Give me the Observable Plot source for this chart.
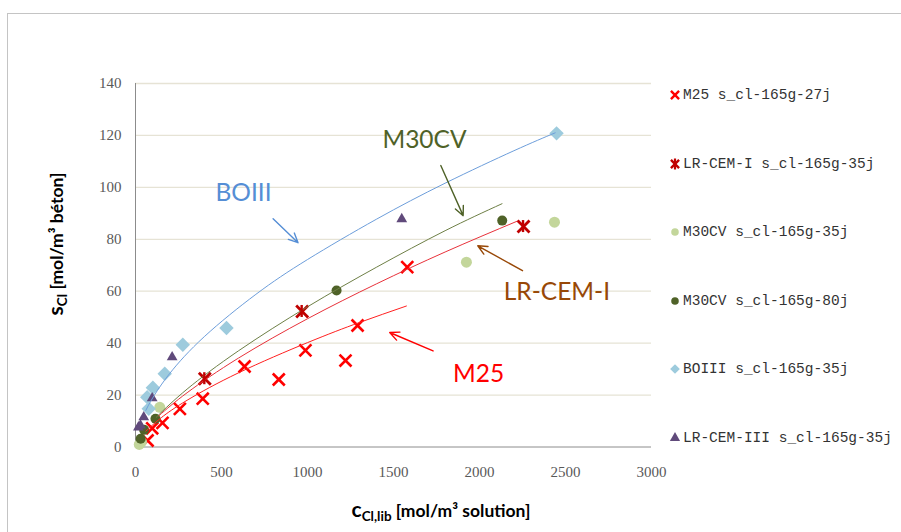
<!DOCTYPE html>
<html>
<head>
<meta charset="utf-8">
<script src="https://cdn.jsdelivr.net/npm/d3@7"></script>
<script src="https://cdn.jsdelivr.net/npm/@observablehq/plot@0.6"></script>
<style>
  html, body { margin: 0; padding: 0; background: #fff; }
  #wrap { position: relative; width: 901px; height: 532px; overflow: hidden; }
  #frame { position: absolute; left: 7px; top: 13px; width: 1000px; height: 600px; border: 1px solid #c4c4c4; box-sizing: border-box; }
  #chart { position: absolute; left: 0; top: 0; }
  #legend { position: absolute; left: 668px; top: 84px; font-family: "Liberation Mono", monospace; font-size: 14.5px; color: #333; }
  .item { position: absolute; left: 0; white-space: nowrap; display: flex; align-items: center; height: 22px; }
  .item svg { margin-right: 1px; }
</style>
</head>
<body>
<div id="wrap">
  <div id="frame"></div>
  <div id="chart"></div>
  <div id="legend"></div>
</div>
<script>
// ---- tick labels ----
const xTicks = [0, 500, 1000, 1500, 2000, 2500, 3000];
const yTicks = [0, 20, 40, 60, 80, 100, 120, 140];

// ---- series names ----
const seriesNames = [
  "M25 s_cl-165g-27j",
  "LR-CEM-I s_cl-165g-35j",
  "M30CV s_cl-165g-35j",
  "M30CV s_cl-165g-80j",
  "BOIII s_cl-165g-35j",
  "LR-CEM-III s_cl-165g-35j"
];

// ---- measured points (x = c_Cl,lib, y = S_Cl) ----
const m25X = [70, 97, 157, 258, 391, 634, 833, 988, 1221, 1291, 1580];
const m25Y = [2.5, 7.2, 9.3, 14.7, 18.6, 31, 26, 37.2, 33.3, 46.8, 69.3];

const lrcem1X = [403, 969, 2256];
const lrcem1Y = [26.3, 52.2, 84.9];

const m30cv35X = [22, 35, 141, 1924, 2436];
const m30cv35Y = [1.0, 2.0, 15.3, 71.2, 86.6];

const m30cv80X = [30, 50, 116, 1169, 2132];
const m30cv80Y = [3.2, 6.6, 10.9, 60.3, 87.2];

const boiiiX = [68, 77, 101, 170, 275, 529, 2448];
const boiiiY = [19.2, 14.7, 22.8, 28.2, 39.4, 45.8, 120.8];

const lrcem3X = [17, 29, 48, 97, 213, 1548];
const lrcem3Y = [7.6, 8.3, 11.5, 18.8, 34.6, 87.8];

// ---- trend curves ----
const trendBOIIIX = [60, 100, 200, 400, 700, 1000, 1400, 1800, 2200, 2440];
const trendBOIIIY = [14.1, 18.9, 28.4, 42.5, 58.8, 72.2, 87.7, 101.6, 114.1, 121.0];

const trendM30CVX = [120, 300, 600, 1000, 1400, 1800, 2131];
const trendM30CVY = [11.4, 22.3, 37.1, 54.0, 69.2, 83.3, 93.7];

const trendLRCEM1X = [135, 300, 600, 1000, 1400, 1800, 2220];
const trendLRCEM1Y = [12.0, 20.9, 34.3, 49.4, 62.8, 75.1, 87.0];

const trendM25X = [60, 150, 300, 600, 1000, 1300, 1575];
const trendM25Y = [6.1, 11.3, 18.0, 28.6, 40.2, 47.9, 54.3];

// ---- annotations ----
const annLabels = ["BOIII", "M30CV", "LR-CEM-I", "M25"];
const annTextX = [628, 1680, 2450, 1995];
const annTextY = [97.6, 118, 59.5, 28];
const annFromX = [800, 1775, 2250, 1730];
const annFromY = [87.9, 108.4, 67.9, 37];
const annToX = [945, 1905, 1990, 1478];
const annToY = [78.7, 89.1, 77.5, 44.1];
const annColors = ["#558ED5", "#4F6228", "#984807", "#FF0000"];

// ---- helpers ----
const zip = (xs, ys) => xs.map((x, i) => ({x, y: ys[i]}));
const anns = annLabels.map((label, i) => ({
  label, tx: annTextX[i], ty: annTextY[i],
  x1: annFromX[i], y1: annFromY[i], x2: annToX[i], y2: annToY[i], color: annColors[i]
}));

const colors = {
  m25: "#FF0000", lrcem1: "#C00000", m30cv35: "#C3D69B", m30cv80: "#4F6228",
  boiii: "#9DCBDD", lrcem3: "#604A7B"
};

const chart = Plot.plot({
  width: 901,
  height: 532,
  marginLeft: 135,
  marginRight: 250,
  marginTop: 83,
  marginBottom: 85.5,
  style: { fontFamily: "Liberation Serif, serif", fontSize: "15px", color: "#595959", background: "transparent" },
  x: { domain: [0, 3000] },
  y: { domain: [0, 140] },
  marks: [
    Plot.gridY(yTicks.filter(d => d > 0), { stroke: "#E6E3D5", strokeOpacity: 1, strokeWidth: 1.3 }),
    Plot.axisX(xTicks, { tickSize: 0, tickPadding: 19, label: null, fontSize: 15, tickFormat: d => String(d) }),
    Plot.axisY(yTicks, { tickSize: 0, tickPadding: 14, label: null, fontSize: 15, tickFormat: d => String(d) }),
    Plot.ruleX([0], { stroke: "#8C8C8C", strokeWidth: 1 }),
    Plot.ruleY([0], { stroke: "#8C8C8C", strokeWidth: 1 }),

    // markers
    Plot.dot(zip(m25X, m25Y), { x: "x", y: "y", symbol: "times", r: 5.5, stroke: colors.m25, strokeWidth: 2.6 }),
    Plot.dot(zip(lrcem1X, lrcem1Y), { x: "x", y: "y", symbol: "times", r: 5.5, stroke: colors.lrcem1, strokeWidth: 2.8 }),
    Plot.dot(zip(m30cv35X, m30cv35Y), { x: "x", y: "y", r: 5.5, fill: colors.m30cv35 }),
    Plot.dot(zip(m30cv80X, m30cv80Y), { x: "x", y: "y", r: 5, fill: colors.m30cv80 }),
    Plot.dot(zip(boiiiX, boiiiY), { x: "x", y: "y", symbol: "diamond2", r: 6.5, fill: colors.boiii }),
    Plot.dot(zip(lrcem3X, lrcem3Y), { x: "x", y: "y", symbol: "triangle", r: 4, fill: colors.lrcem3 }),

    // trend curves
    Plot.line(zip(trendBOIIIX, trendBOIIIY), { x: "x", y: "y", stroke: "#6D9EDB", strokeWidth: 1, curve: "natural" }),
    Plot.line(zip(trendM30CVX, trendM30CVY), { x: "x", y: "y", stroke: "#6E7F46", strokeWidth: 1, curve: "natural" }),
    Plot.line(zip(trendLRCEM1X, trendLRCEM1Y), { x: "x", y: "y", stroke: "#E8313A", strokeWidth: 1, curve: "natural" }),
    Plot.line(zip(trendM25X, trendM25Y), { x: "x", y: "y", stroke: "#FF2020", strokeWidth: 1, curve: "natural" }),

    // annotations
    Plot.arrow(anns, { x1: "x1", y1: "y1", x2: "x2", y2: "y2", stroke: "color", strokeWidth: 1.4, headLength: 11, headAngle: 50 }),
    Plot.text(anns, { x: "tx", y: "ty", text: "label", fill: "color", fontFamily: "Lato, sans-serif", fontSize: 24.5 })
  ]
});
document.getElementById("chart").appendChild(chart);

// asterisk vertical stroke for LR-CEM-I markers (positioned through the plot's scales)
const svg = d3.select(chart);
const xs = chart.scale("x"), ys = chart.scale("y");
svg.append("g").selectAll("line").data(zip(lrcem1X, lrcem1Y)).join("line")
  .attr("x1", d => xs.apply(d.x)).attr("x2", d => xs.apply(d.x))
  .attr("y1", d => ys.apply(d.y) - 6).attr("y2", d => ys.apply(d.y) + 6)
  .attr("stroke", colors.lrcem1).attr("stroke-width", 2.4);

// axis titles with subscripts
const yt = svg.append("text")
  .attr("transform", "translate(63,244) rotate(-90)")
  .attr("text-anchor", "middle")
  .attr("font-family", "Lato, sans-serif").attr("font-weight", "bold")
  .attr("font-size", 17.5).attr("fill", "#000");
yt.append("tspan").attr("font-size", 21).text("s");
yt.append("tspan").attr("font-size", 13.5).attr("dy", 4).text("Cl");
yt.append("tspan").attr("dy", -4).text(" [mol/m³ béton]");

const xt = svg.append("text")
  .attr("x", 441).attr("y", 517)
  .attr("text-anchor", "middle")
  .attr("font-family", "Lato, sans-serif").attr("font-weight", "bold")
  .attr("font-size", 17.5).attr("fill", "#000");
xt.append("tspan").attr("font-size", 21).text("c");
xt.append("tspan").attr("font-size", 13.5).attr("dy", 4).text("Cl,lib");
xt.append("tspan").attr("dy", -4).text(" [mol/m³ solution]");

// legend
const legendSymbols = [
  { sym: d3.symbolTimes, fill: "none", stroke: colors.m25, sw: 2.4, extra: false },
  { sym: d3.symbolTimes, fill: "none", stroke: colors.lrcem1, sw: 2.4, extra: true },
  { sym: d3.symbolCircle, fill: colors.m30cv35, stroke: "none", sw: 0, extra: false },
  { sym: d3.symbolCircle, fill: colors.m30cv80, stroke: "none", sw: 0, extra: false },
  { sym: d3.symbolDiamond2, fill: colors.boiii, stroke: "none", sw: 0, extra: false },
  { sym: d3.symbolTriangle, fill: colors.lrcem3, stroke: "none", sw: 0, extra: false }
];
const legend = d3.select("#legend");
seriesNames.forEach((name, i) => {
  const it = legend.append("div").attr("class", "item").style("top", (i * 68.6) + "px");
  const s = it.append("svg").attr("width", 14).attr("height", 14);
  const spec = legendSymbols[i];
  s.append("path").attr("transform", "translate(7,7)")
    .attr("d", d3.symbol(spec.sym, i < 2 ? 45 : (i === 4 ? 60 : 45))())
    .attr("fill", spec.fill).attr("stroke", spec.stroke).attr("stroke-width", spec.sw);
  if (spec.extra) s.append("line").attr("x1", 7).attr("x2", 7).attr("y1", 1.5).attr("y2", 12.5)
    .attr("stroke", spec.stroke).attr("stroke-width", 2.2);
  it.append("span").text(name);
});
</script>
</body>
</html>
